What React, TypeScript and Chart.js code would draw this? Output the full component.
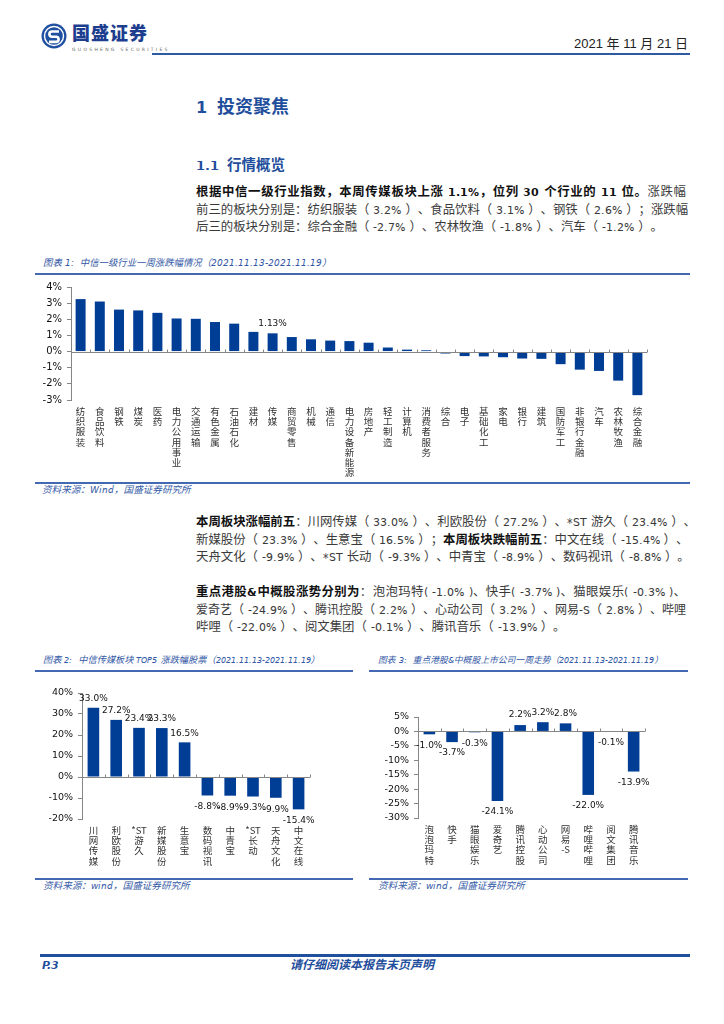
import React, { useEffect, useRef } from 'react';
import { Chart, registerables } from 'chart.js';

Chart.register(...registerables);

// ---------- data ----------
const industries = ['纺织服装', '食品饮料', '钢铁', '煤炭', '医药', '电力公用事业', '交通运输', '有色金属', '石油石化', '建材', '传媒', '商贸零售', '机械', '通信', '电力设备新能源', '房地产', '轻工制造', '计算机', '消费者服务', '综合', '电子', '基础化工', '家电', '银行', '建筑', '国防军工', '非银行金融', '汽车', '农林牧渔', '综合金融'];
const industryChange = [3.25, 3.1, 2.6, 2.55, 2.4, 2.05, 2.03, 1.83, 1.73, 1.22, 1.13, 0.9, 0.76, 0.68, 0.65, 0.55, 0.25, 0.12, 0.08, -0.12, -0.28, -0.3, -0.35, -0.43, -0.45, -0.78, -1.12, -1.2, -1.8, -2.7];
const industryHighlight = 10; // 传媒

const mediaStocks = ['川网传媒', '利欧股份', '*ST游久', '新媒股份', '生意宝', '数码视讯', '中青宝', '*ST长动', '天舟文化', '中文在线'];
const mediaChange = [33.0, 27.2, 23.4, 23.3, 16.5, -8.8, -8.9, -9.3, -9.9, -15.4];

const hkStocks = ['泡泡玛特', '快手', '猫眼娱乐', '爱奇艺', '腾讯控股', '心动公司', '网易-S', '哔哩哔哩', '阅文集团', '腾讯音乐'];
const hkChange = [-1.0, -3.7, -0.3, -24.1, 2.2, 3.2, 2.8, -22.0, -0.1, -13.9];

// ---------- styles ----------
const BAR = '#003d95';
const BLUE = '#1f4e9c';
const CAP = '#3459a6';
const RULE = '#4369b3';
const FONT = "Num, 'Noto Sans CJK SC', sans-serif";

function vertical(name: string): string[] {
  return name.match(/\*ST|-S|./g) || [];
}

type Cfg = {
  labels: string[];
  values: number[];
  min: number;
  max: number;
  step: number;
  yWidth: number;
  xHeight: number;
  padTop: number;
  padRight: number;
  barPct: number;
  yFont: number;
  only: number | null;
  digits: number;
  up: number;
  down: number;
};

function BarChart(props: { left: number; top: number; width: number; height: number; cfg: Cfg }) {
  const { left, top, width, height, cfg } = props;
  const ref = useRef<HTMLCanvasElement | null>(null);
  useEffect(() => {
    const canvas = ref.current;
    if (!canvas) return;
    const zeroAxis = {
      id: 'zeroAxis',
      afterDatasetsDraw(chart: any) {
        const { ctx, scales } = chart;
        const x = scales.x;
        const y = scales.y;
        const y0 = Math.round(y.getPixelForValue(0)) + 0.5;
        const n = chart.data.labels.length;
        ctx.save();
        ctx.strokeStyle = '#868686';
        ctx.lineWidth = 1;
        ctx.beginPath();
        ctx.moveTo(x.left, y0);
        ctx.lineTo(x.right, y0);
        for (let i = 1; i <= n; i++) {
          const px = Math.round(x.left + (i * (x.right - x.left)) / n) + 0.5;
          ctx.moveTo(px, y0);
          ctx.lineTo(px, y0 - 3);
        }
        ctx.stroke();
        ctx.restore();
      },
    };
    const valueLabels = {
      id: 'valueLabels',
      afterDatasetsDraw(chart: any) {
        const { ctx } = chart;
        const meta = chart.getDatasetMeta(0);
        const data = chart.data.datasets[0].data as number[];
        ctx.save();
        ctx.font = "9px 'DejaVu Sans'";
        ctx.fillStyle = '#111';
        ctx.textAlign = 'center';
        ctx.textBaseline = 'middle';
        meta.data.forEach((bar: any, i: number) => {
          if (cfg.only !== null && i !== cfg.only) return;
          const v = data[i];
          const yy = v >= 0 ? bar.y - cfg.up : bar.y + cfg.down;
          ctx.fillText(v.toFixed(cfg.digits) + '%', bar.x, yy);
        });
        ctx.restore();
      },
    };
    const chart = new Chart(canvas, {
      type: 'bar',
      data: {
        labels: cfg.labels.map(vertical),
        datasets: [
          {
            data: cfg.values,
            backgroundColor: BAR,
            categoryPercentage: 1,
            barPercentage: cfg.barPct,
          },
        ],
      },
      options: {
        animation: false,
        responsive: false,
        layout: { padding: { top: cfg.padTop, right: cfg.padRight, left: 0, bottom: 0 } },
        plugins: { legend: { display: false }, tooltip: { enabled: false } },
        scales: {
          x: {
            grid: { display: false, drawTicks: false },
            border: { display: false },
            ticks: {
              autoSkip: false,
              maxRotation: 0,
              minRotation: 0,
              padding: 6,
              color: '#333',
              font: { family: "'Noto Sans CJK SC'", size: 9.5, lineHeight: 1.08 },
            },
            afterFit: (s: any) => {
              s.height = cfg.xHeight;
            },
          },
          y: {
            min: cfg.min,
            max: cfg.max,
            ticks: {
              stepSize: cfg.step,
              padding: 5,
              color: '#111',
              font: { family: "'DejaVu Sans'", size: cfg.yFont },
              callback: (v: any) => v + '%',
            },
            grid: { drawOnChartArea: false, drawTicks: true, tickLength: 4, color: '#868686' },
            border: { display: true, color: '#868686' },
            afterFit: (s: any) => {
              s.width = cfg.yWidth;
            },
          },
        },
      },
      plugins: [zeroAxis, valueLabels],
    } as any);
    return () => chart.destroy();
  }, []);
  return (
    <canvas
      ref={ref}
      width={width}
      height={height}
      style={{ position: 'absolute', left, top, width, height }}
    />
  );
}

function Txt(props: { left: number; cy: number; size: number; h?: number; style?: React.CSSProperties; children: React.ReactNode }) {
  const h = props.h || Math.round(props.size * 1.5);
  return (
    <div
      style={{
        position: 'absolute',
        left: props.left,
        top: props.cy - h / 2,
        height: h,
        lineHeight: h + 'px',
        fontSize: props.size,
        fontFamily: FONT,
        whiteSpace: 'nowrap',
        ...props.style,
      }}
    >
      {props.children}
    </div>
  );
}

function PLine(props: { cy: number; last?: boolean; size?: number; children: React.ReactNode }) {
  return (
    <div
      style={{
        position: 'absolute',
        left: 196,
        top: props.cy - 9,
        width: 490,
        height: 18,
        lineHeight: '18px',
        fontSize: props.size || 12.4,
        fontFamily: FONT,
        color: '#3a3a3a',
        whiteSpace: 'nowrap',
        textAlign: 'justify',
        textAlignLast: props.last ? 'left' : 'justify',
        textSpacingTrim: 'space-all',
      } as React.CSSProperties}
    >
      {props.children}
    </div>
  );
}

const B = (p: { children: React.ReactNode }) => (
  <span style={{ fontWeight: 700, color: '#111' }}>{p.children}</span>
);

function Rule(props: { left: number; top: number; width: number; h?: number; color?: string }) {
  return (
    <div
      style={{
        position: 'absolute',
        left: props.left,
        top: props.top,
        width: props.width,
        height: props.h || 2,
        background: props.color || RULE,
      }}
    />
  );
}

const fontCss = `
@font-face { font-family: 'Num'; src: local('DejaVu Sans'), local('DejaVuSans'); font-weight: 400; font-style: normal; unicode-range: U+0020-007E, U+00A0-00FF; size-adjust: 89%; }
@font-face { font-family: 'Num'; src: local('DejaVu Sans Bold'), local('DejaVuSans-Bold'); font-weight: 700; font-style: normal; unicode-range: U+0020-007E, U+00A0-00FF; size-adjust: 89%; }
@font-face { font-family: 'Num'; src: local('DejaVu Sans Oblique'), local('DejaVuSans-Oblique'); font-weight: 400; font-style: italic; unicode-range: U+0020-007E, U+00A0-00FF; size-adjust: 92%; }
@font-face { font-family: 'Num'; src: local('DejaVu Sans Bold Oblique'), local('DejaVuSans-BoldOblique'); font-weight: 700; font-style: italic; unicode-range: U+0020-007E, U+00A0-00FF; size-adjust: 92%; }
`;

export default function App() {
  const chart1: Cfg = {
    labels: industries,
    values: industryChange,
    min: -3,
    max: 4,
    step: 1,
    yWidth: 41,
    xHeight: 81,
    padTop: 10,
    padRight: 43,
    barPct: 0.52,
    yFont: 10,
    only: industryHighlight,
    digits: 2,
    up: 10,
    down: 11,
  };
  const chart2: Cfg = {
    labels: mediaStocks,
    values: mediaChange,
    min: -20,
    max: 40,
    step: 10,
    yWidth: 47,
    xHeight: 59,
    padTop: 11,
    padRight: 40,
    barPct: 0.51,
    yFont: 9.5,
    only: null,
    digits: 1,
    up: 9,
    down: 11.5,
  };
  const chart3: Cfg = {
    labels: hkStocks,
    values: hkChange,
    min: -30,
    max: 5,
    step: 5,
    yWidth: 48,
    xHeight: 60,
    padTop: 12,
    padRight: 45,
    barPct: 0.51,
    yFont: 9.5,
    only: null,
    digits: 1,
    up: 10,
    down: 11,
  };
  const cap: React.CSSProperties = { fontStyle: 'italic', color: CAP };
  return (
    <div style={{ position: 'absolute', left: 0, top: 0, width: 724, height: 1024, background: '#fff', overflow: 'hidden' }}>
      <style>{fontCss}</style>

      {/* header */}
      <svg width="26" height="26" viewBox="0 0 26 26" style={{ position: 'absolute', left: 41, top: 23 }}>
        <circle cx="13" cy="13" r="12.5" fill="#1f4fa0" />
        <circle cx="13" cy="13" r="9.5" fill="none" stroke="#fff" strokeWidth="1.4" />
        <path d="M18 8.5 H11 a2.6 2.6 0 0 0 0 5.2 h4 a2.6 2.6 0 0 1 0 5.2 H8" stroke="#fff" strokeWidth="2.6" fill="none" />
      </svg>
      <Txt left={72} cy={35} size={18} h={22} style={{ fontWeight: 900, color: '#1d3e8e', letterSpacing: 1 }}>国盛证券</Txt>
      <Txt left={72} cy={49.5} size={4.5} h={6} style={{ color: '#666', letterSpacing: 2.3, fontFamily: "'DejaVu Sans'" }}>GUOSHENG SECURITIES</Txt>
      <div style={{ position: 'absolute', right: 36, top: 36, height: 16, lineHeight: '16px', fontSize: 13, color: '#222', fontFamily: "'Liberation Sans', 'Noto Sans CJK SC'", whiteSpace: 'nowrap' }}>
        2021 年 11 月 21 日
      </div>
      <Rule left={152} top={53} width={538} h={2} color="#2d5aa3" />

      {/* headings */}
      <Txt left={196} cy={108} size={18} h={24} style={{ fontWeight: 700, color: BLUE }}>
        <span>1</span>
        <span style={{ marginLeft: 10 }}>投资聚焦</span>
      </Txt>
      <Txt left={196} cy={166} size={14.5} h={20} style={{ fontWeight: 700, color: BLUE }}>
        <span>1.1</span>
        <span style={{ marginLeft: 8 }}>行情概览</span>
      </Txt>

      {/* paragraph 1 */}
      <PLine cy={193}>
        <B>根据中信一级行业指数，本周传媒板块上涨 1.1%，位列 30 个行业的 11 位。</B>涨跌幅
      </PLine>
      <PLine cy={210.5}>前三的板块分别是：纺织服装（ 3.2% ）、食品饮料（ 3.1% ）、钢铁（ 2.6% ）；涨跌幅</PLine>
      <PLine cy={228} last>后三的板块分别是：综合金融（ -2.7% ）、农林牧渔（ -1.8% ）、汽车（ -1.2% ）。</PLine>

      {/* chart 1 */}
      <Txt left={43} cy={263} size={9.4} h={12} style={cap}>图表 1:&nbsp; 中信一级行业一周涨跌幅情况（2021.11.13-2021.11.19）</Txt>
      <Rule left={35} top={273} width={655} />
      <BarChart left={30} top={276} width={660} height={205} cfg={chart1} />
      <Rule left={35} top={482} width={655} />
      <Txt left={42} cy={490} size={9.6} h={12} style={cap}>资料来源：Wind，国盛证券研究所</Txt>

      {/* paragraph 2 */}
      <PLine cy={523}>
        <B>本周板块涨幅前五</B>：川网传媒（ 33.0% ）、利欧股份（ 27.2% ）、*ST 游久（ 23.4% ）、
      </PLine>
      <PLine cy={540.5}>
        新媒股份（ 23.3% ）、生意宝（ 16.5% ）；<B>本周板块跌幅前五</B>：中文在线（ -15.4% ）、
      </PLine>
      <PLine cy={558} last>天舟文化（ -9.9% ）、*ST 长动（ -9.3% ）、中青宝（ -8.9% ）、数码视讯（ -8.8% ）。</PLine>

      {/* paragraph 3 */}
      <PLine cy={593}>
        <B>重点港股&amp;中概股涨势分别为</B>：泡泡玛特( -1.0% )、快手( -3.7% )、猫眼娱乐( -0.3% )、
      </PLine>
      <PLine cy={610.5} size={12}>爱奇艺（ -24.9% ）、腾讯控股（ 2.2% ）、心动公司（ 3.2% ）、网易-S（ 2.8% ）、哔哩</PLine>
      <PLine cy={628} last>哔哩（ -22.0% ）、阅文集团（ -0.1% ）、腾讯音乐（ -13.9% ）。</PLine>

      {/* chart 2 */}
      <Txt left={43} cy={660} size={9.2} h={12} style={cap}>图表 2:&nbsp; 中信传媒板块 TOP5 涨跌幅股票（2021.11.13-2021.11.19）</Txt>
      <Rule left={35} top={670} width={318} />
      <BarChart left={35} top={682} width={315} height={196} cfg={chart2} />
      <Rule left={35} top={878} width={318} />
      <Txt left={43} cy={886} size={9.6} h={12} style={cap}>资料来源：wind，国盛证券研究所</Txt>

      {/* chart 3 */}
      <Txt left={378} cy={660} size={8.8} h={12} style={cap}>图表 3:&nbsp; 重点港股&amp;中概股上市公司一周走势（2021.11.13-2021.11.19）</Txt>
      <Rule left={369} top={670} width={319} />
      <BarChart left={370} top={705} width={320} height={173} cfg={chart3} />
      <Rule left={369} top={878} width={319} />
      <Txt left={378} cy={886} size={9.6} h={12} style={cap}>资料来源：wind，国盛证券研究所</Txt>

      {/* footer */}
      <Rule left={40} top={954} width={650} h={2.5} color="#1f4f9d" />
      <Txt left={42} cy={966} size={12} h={16} style={{ fontWeight: 700, fontStyle: 'italic', color: BLUE }}>P.3</Txt>
      <div style={{ position: 'absolute', left: 0, width: 724, top: 958, height: 16, lineHeight: '16px', textAlign: 'center', fontSize: 12, fontWeight: 700, fontStyle: 'italic', color: BLUE, fontFamily: FONT }}>
        请仔细阅读本报告末页声明
      </div>
    </div>
  );
}
